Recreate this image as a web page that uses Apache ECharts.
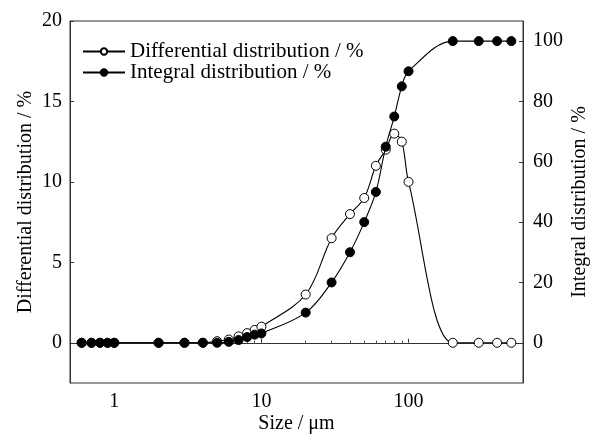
<!DOCTYPE html>
<html>
<head>
<meta charset="utf-8">
<script src="https://cdn.jsdelivr.net/npm/echarts@6/dist/echarts.min.js"></script>
<style>
  html, body { margin: 0; padding: 0; background: #fff; }
  #chart { width: 599px; height: 437px; }
</style>
</head>
<body>
<div id="chart"></div>
<script>
// Particle size (µm) and the two distributions measured at each size
const sizes = [0.6, 0.7, 0.8, 0.9, 1, 2, 3, 4, 5, 6, 7, 8, 9, 10, 20, 30, 40, 50, 60, 70, 80, 90, 100, 200, 300, 400, 500];
const differential = [0, 0, 0, 0, 0, 0, 0, 0, 0.1, 0.2, 0.4, 0.6, 0.8, 1.0, 3.0, 6.5, 8.0, 9.0, 11.0, 12.0, 13.0, 12.5, 10.0, 0, 0, 0, 0];
const integral = [0, 0, 0, 0, 0, 0, 0, 0, 0, 0.3, 0.9, 1.9, 2.7, 3.1, 10, 20, 30, 40, 50, 65, 75, 85, 90, 100, 100, 100, 100];

// Tick positions
const xMajorTicks = [1, 10, 100];
const xMinorTicks = [0.6, 0.7, 0.8, 0.9, 2, 3, 4, 5, 6, 7, 8, 9, 20, 30, 40, 50, 60, 70, 80, 90, 200, 300, 400, 500];
const leftTicks = [0, 5, 10, 15, 20];
const rightTicks = [0, 20, 40, 60, 80, 100];

const FONT = '"Liberation Serif", "Times New Roman", serif';
const INK = '#000';
const AXIS = '#333';

const pair = (ys) => sizes.map((x, i) => [x, ys[i]]);

const chart = echarts.init(document.getElementById('chart'), null, { renderer: 'canvas' });

const xBase = {
  type: 'log',
  logBase: 10,
  min: 0.5,
  max: 600,
  gridIndex: 0,
  splitLine: { show: false }
};

chart.setOption({
  animation: false,
  backgroundColor: '#fff',
  grid: {
    left: 70, right: 76, top: 21, bottom: 54,
    outerBoundsMode: 'none',
    containLabel: false,
    show: true, borderColor: AXIS, borderWidth: 1, backgroundColor: 'transparent'
  },
  legend: {
    orient: 'vertical',
    left: 77,
    top: 36,
    padding: 5,
    itemWidth: 42,
    itemHeight: 8,
    itemGap: 0,
    textStyle: { fontFamily: FONT, fontSize: 21, color: INK, lineHeight: 21 },
    data: ['Differential distribution / %', 'Integral distribution / %']
  },
  xAxis: [
    Object.assign({}, xBase, {
      name: 'Size / μm',
      nameLocation: 'middle',
      nameGap: 31,
      nameMoveOverlap: false,
      nameTextStyle: { fontFamily: FONT, fontSize: 20, color: INK },
      axisLine: { show: true, lineStyle: { color: AXIS, width: 1 } },
      axisTick: { show: true, inside: true, length: 4, customValues: xMajorTicks, lineStyle: { color: AXIS } },
      axisLabel: { show: true, customValues: xMajorTicks, fontFamily: FONT, fontSize: 20, color: INK, margin: 9 },
      minorTick: { show: false }
    }),
    Object.assign({}, xBase, {
      position: 'bottom',
      axisLine: { show: false },
      axisTick: { show: true, inside: true, length: 2, customValues: xMinorTicks, lineStyle: { color: AXIS } },
      axisLabel: { show: false }
    })
  ],
  yAxis: [
    {
      type: 'value',
      min: -2.5,
      max: 20,
      position: 'left',
      name: 'Differential distribution / %',
      nameLocation: 'middle',
      nameGap: 34,
      nameMoveOverlap: false,
      nameTextStyle: { fontFamily: FONT, fontSize: 20, color: INK },
      axisLine: { show: true, lineStyle: { color: AXIS, width: 1 } },
      axisTick: { show: true, inside: true, length: 4, customValues: leftTicks, lineStyle: { color: AXIS } },
      axisLabel: { customValues: leftTicks, fontFamily: FONT, fontSize: 20, color: INK, margin: 8 },
      splitLine: { show: false }
    },
    {
      type: 'value',
      min: -2.5 * 16 / 3,
      max: 20 * 16 / 3,
      position: 'right',
      name: 'Integral distribution / %',
      nameLocation: 'middle',
      nameGap: 47,
      nameMoveOverlap: false,
      nameTextStyle: { fontFamily: FONT, fontSize: 20, color: INK },
      axisLine: { show: true, lineStyle: { color: AXIS, width: 1 } },
      axisTick: { show: true, inside: true, length: 4, customValues: rightTicks, lineStyle: { color: AXIS } },
      axisLabel: { customValues: rightTicks, fontFamily: FONT, fontSize: 20, color: INK, margin: 10 },
      splitLine: { show: false }
    }
  ],
  series: [
    {
      name: 'Differential distribution / %',
      type: 'line',
      xAxisIndex: 0,
      yAxisIndex: 0,
      data: pair(differential),
      smooth: 0.35,
      symbol: 'circle',
      symbolSize: 9,
      itemStyle: { color: '#fff', borderColor: INK, borderWidth: 1 },
      lineStyle: { color: INK, width: 1.1 },
      z: 2
    },
    {
      name: 'Integral distribution / %',
      type: 'line',
      xAxisIndex: 0,
      yAxisIndex: 1,
      data: pair(integral),
      smooth: 0.35,
      symbol: 'circle',
      symbolSize: 9,
      itemStyle: { color: INK, borderColor: INK, borderWidth: 1 },
      lineStyle: { color: INK, width: 1.1 },
      z: 3
    }
  ]
});
</script>
</body>
</html>
